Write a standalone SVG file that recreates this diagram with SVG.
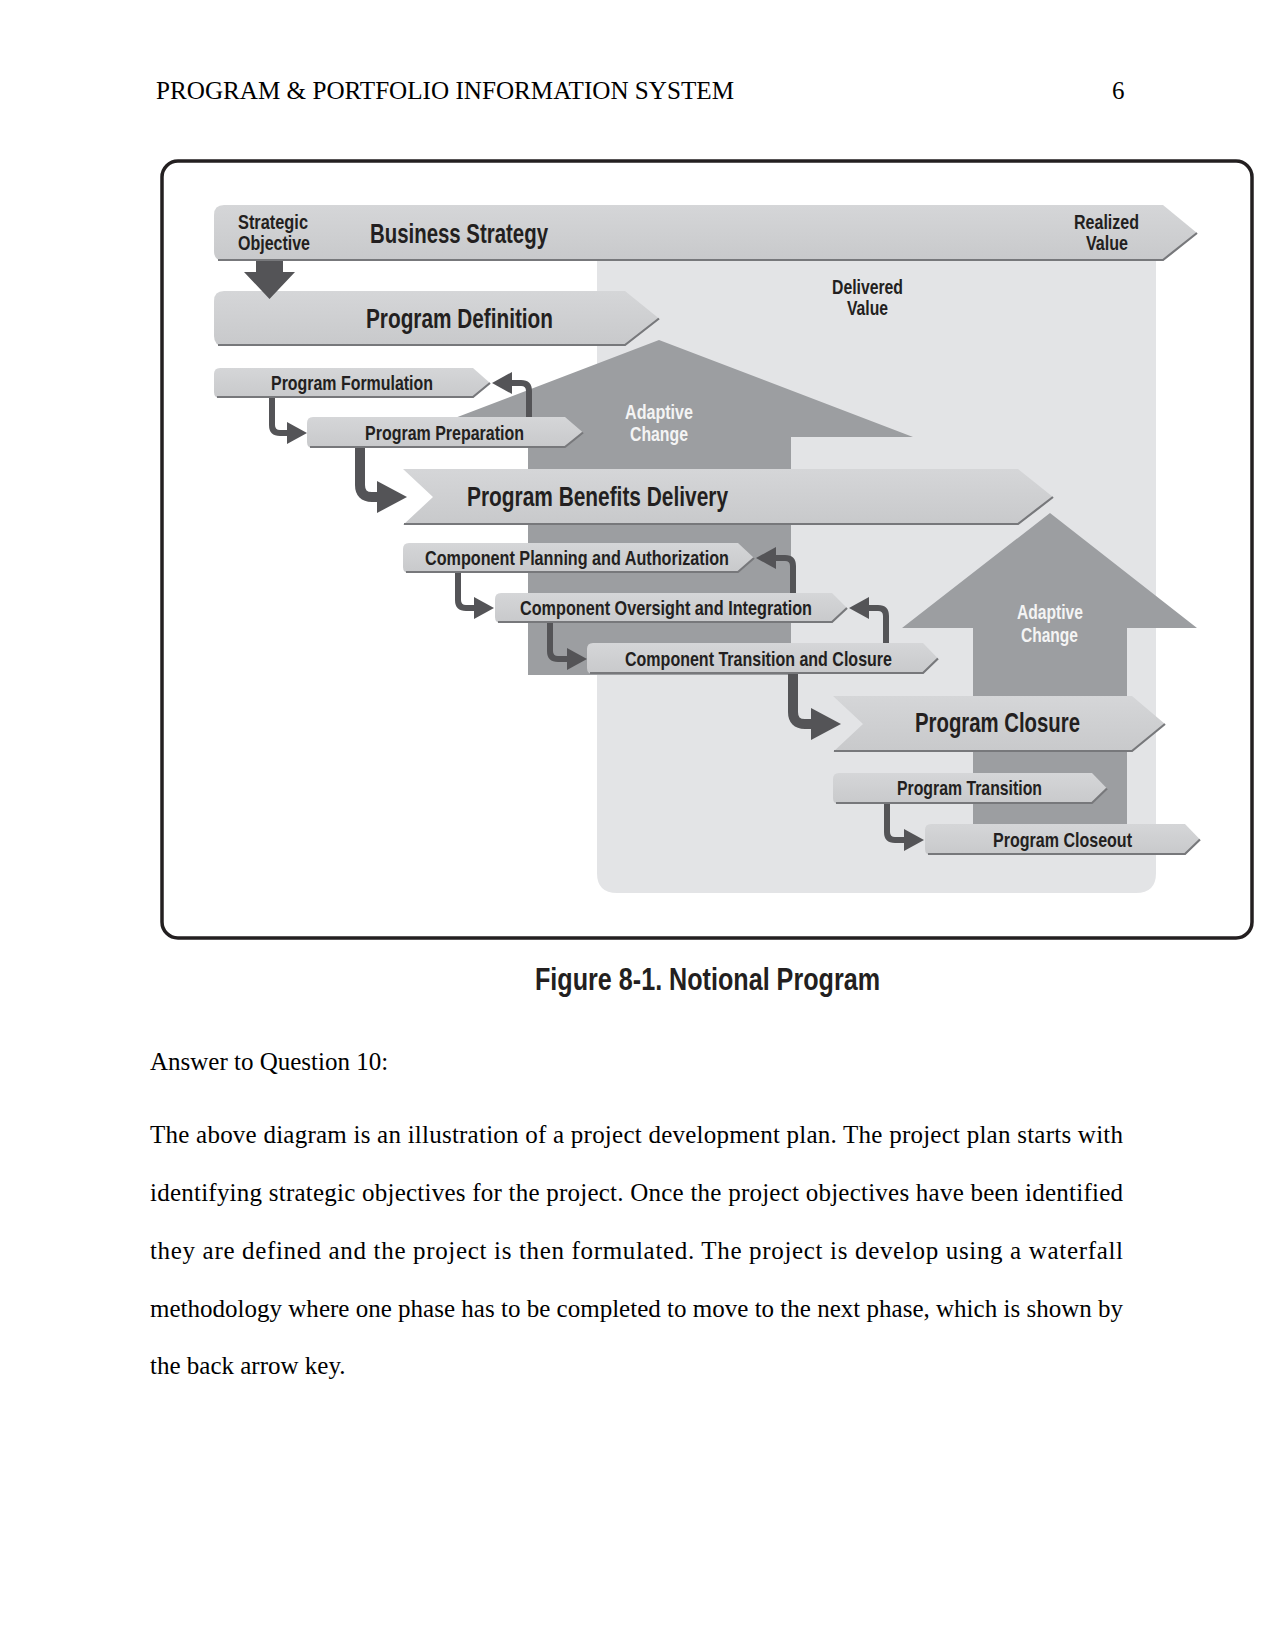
<svg xmlns="http://www.w3.org/2000/svg" width="1275" height="1651" viewBox="0 0 1275 1651">
<style>
.page{font-family:'Liberation Serif','Times New Roman',serif;font-size:25px;fill:#000}
.d{font-family:'Liberation Sans Narrow','Liberation Sans',Arial,sans-serif;font-weight:bold;fill:#231f20}
.s{font-size:20.5px}
.l{font-size:27px}
.w{fill:#f4f4f4}
.bar{fill:url(#barg)}
.edge{fill:none;stroke:#77787b;stroke-width:2.2}
.con{fill:none;stroke:#545457;stroke-width:6;stroke-linejoin:round}
.thick{stroke-width:10}
.adapt{fill:#9c9ea1}
</style>
<defs>
<linearGradient id="barg" x1="0" y1="0" x2="0" y2="1">
<stop offset="0" stop-color="#d5d6d8"/>
<stop offset="1" stop-color="#c8c9cb"/>
</linearGradient>
<marker id="ah" markerUnits="userSpaceOnUse" markerWidth="22" markerHeight="24" refX="1" refY="11" orient="auto">
<path d="M0,0 L20,11 L0,22 Z" fill="#545457"/>
</marker>
<marker id="ahb" markerUnits="userSpaceOnUse" markerWidth="32" markerHeight="34" refX="1" refY="16" orient="auto">
<path d="M0,0 L30,16 L0,32 Z" fill="#545457"/>
</marker>
</defs>
<rect width="1275" height="1651" fill="#fff"/>

<!-- page header -->
<text class="page" x="156" y="99" textLength="578" lengthAdjust="spacingAndGlyphs">PROGRAM &amp; PORTFOLIO INFORMATION SYSTEM</text>
<text class="page" x="1112" y="99">6</text>

<!-- figure frame -->
<rect x="162" y="161" width="1090" height="777" rx="16" fill="#fff" stroke="#231f20" stroke-width="3.5"/>

<!-- delivered value background -->
<g id="delivered-value">
<path d="M597,261 H1156 V873 Q1156,893 1136,893 H617 Q597,893 597,873 Z" fill="#e3e4e6"/>
<text class="d s" x="832" y="294" textLength="71" lengthAdjust="spacingAndGlyphs">Delivered</text>
<text class="d s" x="847" y="315" textLength="41" lengthAdjust="spacingAndGlyphs">Value</text>
</g>

<!-- adaptive change arrows -->
<g id="adaptive-change-1">
<polygon class="adapt" points="659,340 913,437 791,437 791,675 528,675 528,437 405,437"/>
<text class="d s w" x="625" y="419" textLength="68" lengthAdjust="spacingAndGlyphs">Adaptive</text>
<text class="d s w" x="630" y="441" textLength="58" lengthAdjust="spacingAndGlyphs">Change</text>
</g>
<g id="adaptive-change-2">
<polygon class="adapt" points="1050,513 1197,628 1127,628 1127,845 973,845 973,628 902,628"/>
<text class="d s w" x="1017" y="619" textLength="66" lengthAdjust="spacingAndGlyphs">Adaptive</text>
<text class="d s w" x="1021" y="642" textLength="57" lengthAdjust="spacingAndGlyphs">Change</text>
</g>

<!-- bars -->
<g id="business-strategy">
<path class="bar" d="M224,205 H1163 L1197,233 L1163,261 H224 Q214,261 214,251 V215 Q214,205 224,205 Z"/>
<path class="edge" d="M218,260 H1163 L1197,233"/>
<text class="d s" x="238" y="229" textLength="70" lengthAdjust="spacingAndGlyphs">Strategic</text>
<text class="d s" x="238" y="250" textLength="72" lengthAdjust="spacingAndGlyphs">Objective</text>
<text class="d l" x="370" y="243" textLength="178" lengthAdjust="spacingAndGlyphs">Business Strategy</text>
<text class="d s" x="1074" y="229" textLength="65" lengthAdjust="spacingAndGlyphs">Realized</text>
<text class="d s" x="1086" y="250" textLength="42" lengthAdjust="spacingAndGlyphs">Value</text>
</g>

<g id="program-definition">
<path class="bar" d="M224,291 H625 L659,318.5 L625,346 H224 Q214,346 214,336 V301 Q214,291 224,291 Z"/>
<path class="edge" d="M218,345 H625 L659,318.5"/>
<text class="d l" x="366" y="328" textLength="187" lengthAdjust="spacingAndGlyphs">Program Definition</text>
</g>

<g id="program-formulation">
<path class="bar" d="M220,368 H473 L490,383 L473,398 H220 Q214,398 214,392 V374 Q214,368 220,368 Z"/>
<path class="edge" d="M217,397 H473 L490,383"/>
<text class="d s" x="271" y="390" textLength="162" lengthAdjust="spacingAndGlyphs">Program Formulation</text>
</g>

<g id="program-preparation">
<path class="bar" d="M313,417 H565 L583,432.5 L565,448 H313 Q307,448 307,442 V423 Q307,417 313,417 Z"/>
<path class="edge" d="M310,447 H565 L583,432.5"/>
<text class="d s" x="365" y="440" textLength="159" lengthAdjust="spacingAndGlyphs">Program Preparation</text>
</g>

<g id="program-benefits-delivery">
<path class="bar" d="M403,469 H1018 L1053,497 L1018,525 H403 L433,497 Z"/>
<path class="edge" d="M404,524 H1018 L1053,497"/>
<text class="d l" x="467" y="506" textLength="261" lengthAdjust="spacingAndGlyphs">Program Benefits Delivery</text>
</g>

<g id="component-planning">
<path class="bar" d="M409,543 H738 L754,558 L738,573 H409 Q403,573 403,567 V549 Q403,543 409,543 Z"/>
<path class="edge" d="M406,572 H738 L754,558"/>
<text class="d s" x="425" y="565" textLength="304" lengthAdjust="spacingAndGlyphs">Component Planning and Authorization</text>
</g>

<g id="component-oversight">
<path class="bar" d="M501,593 H832 L847,608 L832,623 H501 Q495,623 495,617 V599 Q495,593 501,593 Z"/>
<path class="edge" d="M498,622 H832 L847,608"/>
<text class="d s" x="520" y="615" textLength="292" lengthAdjust="spacingAndGlyphs">Component Oversight and Integration</text>
</g>

<g id="component-transition">
<path class="bar" d="M593,643 H923 L938,658.5 L923,674 H593 Q587,674 587,668 V649 Q587,643 593,643 Z"/>
<path class="edge" d="M590,673 H923 L938,658.5"/>
<text class="d s" x="625" y="666" textLength="267" lengthAdjust="spacingAndGlyphs">Component Transition and Closure</text>
</g>

<g id="program-closure">
<path class="bar" d="M833,696 H1132 L1165,724 L1132,752 H833 L863,724 Z"/>
<path class="edge" d="M834,751 H1132 L1165,724"/>
<text class="d l" x="915" y="732" textLength="165" lengthAdjust="spacingAndGlyphs">Program Closure</text>
</g>

<g id="program-transition">
<path class="bar" d="M839,773 H1092 L1107,788.5 L1092,804 H839 Q833,804 833,798 V779 Q833,773 839,773 Z"/>
<path class="edge" d="M836,803 H1092 L1107,788.5"/>
<text class="d s" x="897" y="795" textLength="145" lengthAdjust="spacingAndGlyphs">Program Transition</text>
</g>

<g id="program-closeout">
<path class="bar" d="M931,824 H1185 L1200,839.5 L1185,855 H931 Q925,855 925,849 V830 Q925,824 931,824 Z"/>
<path class="edge" d="M928,854 H1185 L1200,839.5"/>
<text class="d s" x="993" y="847" textLength="139" lengthAdjust="spacingAndGlyphs">Program Closeout</text>
</g>

<!-- connectors -->
<g id="connectors">
<polygon points="256,261 283,261 283,272 295,272 269.5,299 244,272 256,272" fill="#545457"/>
<path class="con" d="M272,398 V425 Q272,433 280,433 H288" marker-end="url(#ah)"/>
<path class="con" d="M529,417 V391 Q529,383 521,383 H511" marker-end="url(#ah)"/>
<path class="con thick" d="M360,448 V485 Q360,497 372,497 H378" marker-end="url(#ahb)"/>
<path class="con" d="M458,573 V600 Q458,608 466,608 H475" marker-end="url(#ah)"/>
<path class="con" d="M793,593 V566 Q793,558 785,558 H775" marker-end="url(#ah)"/>
<path class="con" d="M550,623 V651 Q550,659 558,659 H568" marker-end="url(#ah)"/>
<path class="con" d="M886,643 V616 Q886,608 878,608 H868" marker-end="url(#ah)"/>
<path class="con thick" d="M793,674 V712 Q793,724 805,724 H812" marker-end="url(#ahb)"/>
<path class="con" d="M887,804 V832 Q887,840 895,840 H905" marker-end="url(#ah)"/>
</g>

<!-- caption -->
<text class="d" x="535" y="990" font-size="32" textLength="345" lengthAdjust="spacingAndGlyphs">Figure 8-1. Notional Program</text>

<!-- body text -->
<text class="page" x="150" y="1070">Answer to Question 10:</text>
<text class="page" x="150" y="1143" textLength="973" lengthAdjust="spacing">The above diagram is an illustration of a project development plan. The project plan starts with</text>
<text class="page" x="150" y="1201" textLength="973" lengthAdjust="spacing">identifying strategic objectives for the project. Once the project objectives have been identified</text>
<text class="page" x="150" y="1259" textLength="973" lengthAdjust="spacing">they are defined and the project is then formulated. The project is develop using a waterfall</text>
<text class="page" x="150" y="1317" textLength="973" lengthAdjust="spacing">methodology where one phase has to be completed to move to the next phase, which is shown by</text>
<text class="page" x="150" y="1374">the back arrow key.</text>
</svg>
